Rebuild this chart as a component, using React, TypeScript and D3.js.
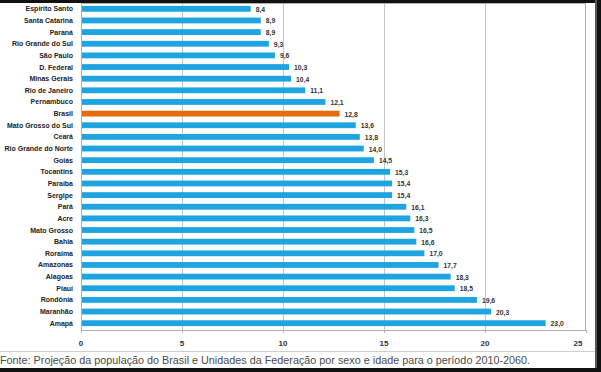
import React, { useEffect, useRef } from "react";
import * as d3 from "d3";

const estados = [
  "Espírito Santo", "Santa Catarina", "Paraná", "Rio Grande do Sul", "São Paulo",
  "D. Federal", "Minas Gerais", "Rio de Janeiro", "Pernambuco", "Brasil",
  "Mato Grosso do Sul", "Ceará", "Rio Grande do Norte", "Goiás", "Tocantins",
  "Paraíba", "Sergipe", "Pará", "Acre", "Mato Grosso", "Bahia", "Roraima",
  "Amazonas", "Alagoas", "Piauí", "Rondônia", "Maranhão", "Amapá",
];

const valores = [
  8.4, 8.9, 8.9, 9.3, 9.6, 10.3, 10.4, 11.1, 12.1, 12.8, 13.6, 13.8, 14.0,
  14.5, 15.3, 15.4, 15.4, 16.1, 16.3, 16.5, 16.6, 17.0, 17.7, 18.3, 18.5,
  19.6, 20.3, 23.0,
];

const xTicks = [0, 5, 10, 15, 20, 25];

const fonte =
  "Fonte: Projeção da população do Brasil e Unidades da Federação por sexo e idade para o período 2010-2060.";

const W = 601;
const H = 372;

export default function App() {
  const ref = useRef<SVGSVGElement>(null);

  useEffect(() => {
    const svg = d3.select(ref.current);
    svg.selectAll("*").remove();

    const left = 81, right = 586, top = 3, bottom = 330;

    const data = estados.map((e, i) => ({ nome: e, valor: valores[i] }));

    const x = d3.scaleLinear().domain([0, 25]).range([left, right]);
    const y = d3
      .scaleBand()
      .domain(estados)
      .range([top, bottom - 1])
      .paddingInner(0.5)
      .paddingOuter(0.25);

    svg.append("rect").attr("width", W).attr("height", H).attr("fill", "#fff");

    // grid
    svg
      .append("g")
      .selectAll("line")
      .data(xTicks.slice(1, -1))
      .enter()
      .append("line")
      .attr("x1", (d) => x(d) + 0.5)
      .attr("x2", (d) => x(d) + 0.5)
      .attr("y1", top)
      .attr("y2", bottom)
      .attr("stroke", "#c4c4c4")
      .attr("stroke-width", 1);

    // plot border
    svg
      .append("rect")
      .attr("x", left + 0.5)
      .attr("y", top + 0.5)
      .attr("width", right - left - 1)
      .attr("height", bottom - top)
      .attr("fill", "none")
      .attr("stroke", "#b0b0b0");

    // bottom ticks
    svg
      .append("g")
      .selectAll("line")
      .data(xTicks)
      .enter()
      .append("line")
      .attr("x1", (d) => x(d) + 0.5)
      .attr("x2", (d) => x(d) + 0.5)
      .attr("y1", bottom)
      .attr("y2", bottom + 3)
      .attr("stroke", "#b0b0b0");

    svg
      .append("g")
      .selectAll("text")
      .data(xTicks)
      .enter()
      .append("text")
      .attr("x", (d) => (d === 25 ? x(d) - 8 : x(d)))
      .attr("y", bottom + 16)
      .attr("text-anchor", "middle")
      .attr("font-family", "Liberation Sans, Arial, sans-serif")
      .attr("font-weight", "bold")
      .attr("font-size", 8)
      .attr("fill", "#333")
      .text((d) => d);

    // bars
    svg
      .append("g")
      .selectAll("rect")
      .data(data)
      .enter()
      .append("rect")
      .attr("x", x(0) + 1)
      .attr("y", (d) => y(d.nome))
      .attr("width", (d) => x(d.valor) - x(0) - 1)
      .attr("height", y.bandwidth())
      .attr("fill", (d) => (d.nome === "Brasil" ? "#e46c0a" : "#1ea4e0"));

    const fmt = d3.format(".1f");
    svg
      .append("g")
      .selectAll("text")
      .data(data)
      .enter()
      .append("text")
      .attr("x", (d) => x(d.valor) + 5)
      .attr("y", (d) => y(d.nome) + y.bandwidth() / 2 + 3)
      .attr("font-family", "Liberation Sans, Arial, sans-serif")
      .attr("font-weight", "bold")
      .attr("font-size", 6.8)
      .attr("fill", "#333")
      .text((d) => fmt(d.valor).replace(".", ","));

    // category labels
    svg
      .append("g")
      .selectAll("text")
      .data(data)
      .enter()
      .append("text")
      .attr("x", left - 8)
      .attr("y", (d) => y(d.nome) + y.bandwidth() / 2 + 2.5)
      .attr("text-anchor", "end")
      .attr("font-family", "Liberation Sans, Arial, sans-serif")
      .attr("font-weight", "bold")
      .attr("font-size", 7)
      .attr("fill", "#222")
      .text((d) => d.nome);

    // footer
    svg
      .append("line")
      .attr("x1", 0)
      .attr("x2", 595)
      .attr("y1", 351.5)
      .attr("y2", 351.5)
      .attr("stroke", "#cfcfcf");

    svg
      .append("text")
      .attr("x", 0)
      .attr("y", 364)
      .attr("font-family", "Liberation Sans, Arial, sans-serif")
      .attr("font-size", 10.8)
      .attr("fill", "#4a4a4a")
      .text(fonte);

    // dark frame from the screenshot
    svg.append("rect").attr("x", 0).attr("y", 0).attr("width", W).attr("height", 3).attr("fill", "#111");
    svg.append("rect").attr("x", 595).attr("y", 0).attr("width", 2).attr("height", H).attr("fill", "#555");
    svg.append("rect").attr("x", 597).attr("y", 0).attr("width", 4).attr("height", H).attr("fill", "#111");
    svg.append("rect").attr("x", 0).attr("y", 368).attr("width", W).attr("height", 4).attr("fill", "#111");
  }, []);

  return (
    <svg
      ref={ref}
      width={W}
      height={H}
      style={{ position: "absolute", left: 0, top: 0, display: "block" }}
    />
  );
}
